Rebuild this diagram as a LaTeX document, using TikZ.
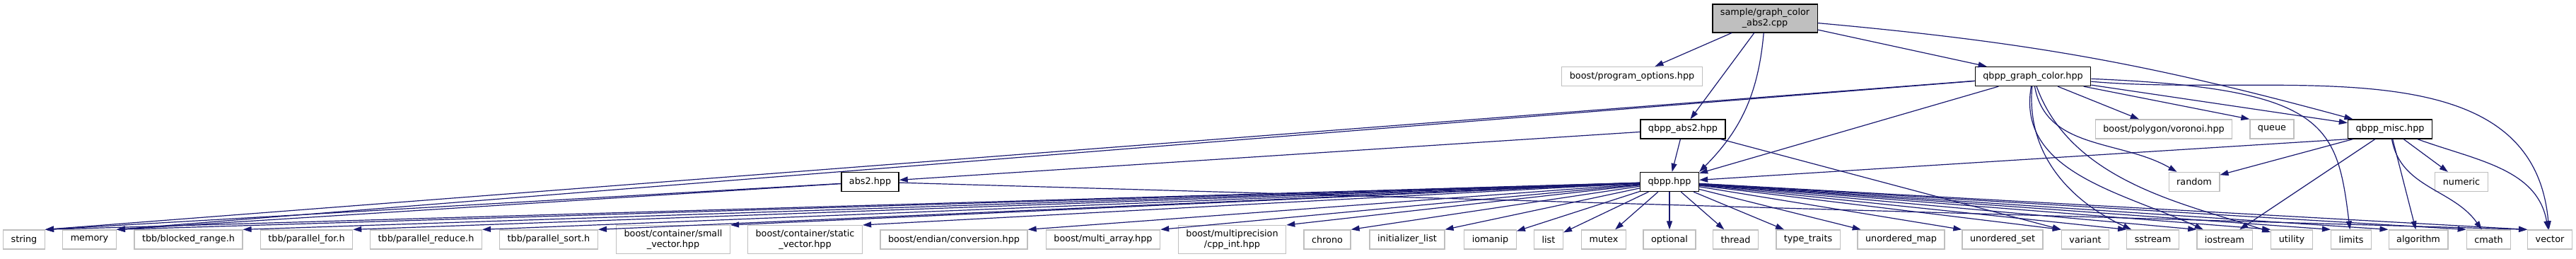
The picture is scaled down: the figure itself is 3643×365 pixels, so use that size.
\documentclass[tikz,border=0pt]{standalone}
\usepackage{fontspec}
\setmainfont{DejaVu Sans}
\usepackage{tikz}
\usetikzlibrary{arrows.meta}
\definecolor{edgeblue}{HTML}{191970}
\definecolor{leafgray}{HTML}{BFBFBF}
\tikzstyle{leaf} = [rectangle, draw=leafgray, fill=white, line width=1.3pt,
    align=center, inner xsep=11pt, inner ysep=6pt, minimum height=27pt]
\tikzstyle{header} = [leaf, draw=black]
\tikzstyle{rootfile} = [header, fill=leafgray]
\tikzstyle{line} = [draw, line width=1.2pt, color=edgeblue, -{Triangle[length=12pt,width=8pt]}]

\begin{document}
\begin{tikzpicture}[x=1pt, y=-1pt]
  \fontsize{12.8}{15}\selectfont
  \useasboundingbox (0,0) rectangle (3643,365);
    % Place nodes
    \node [rootfile] (rootFile) at (2496,26) {sample/graph\_color\\\_abs2.cpp};
    \node [leaf] (programOptions) at (2308,108) {boost/program\_options.hpp};
    \node [header] (graphColor) at (2875,108) {qbpp\_graph\_color.hpp};
    \node [header] (qbppAbs2) at (2380,182.5) {qbpp\_abs2.hpp};
    \node [leaf] (voronoi) at (3060,182.5) {boost/polygon/voronoi.hpp};
    \node [leaf] (queue) at (3213,182.5) {queue};
    \node [header] (qbppMisc) at (3380,182.5) {qbpp\_misc.hpp};
    \node [header] (abs2) at (1230.5,257) {abs2.hpp};
    \node [leaf] (random) at (3103,257) {random};
    \node [leaf] (numeric) at (3481,257) {numeric};

    % bottom row
    \node [leaf] (string) at (34,338.5) {string};
    \node [leaf, right of=string, node distance=92.5pt] (memory) {memory};
    \node [leaf, right of=memory, node distance=140pt] (blockedRange) {tbb/blocked\_range.h};
    \node [leaf, right of=blockedRange, node distance=167pt] (parallelFor) {tbb/parallel\_for.h};
    \node [leaf, right of=parallelFor, node distance=169pt] (parallelReduce) {tbb/parallel\_reduce.h};
    \node [leaf, right of=parallelReduce, node distance=173.5pt] (parallelSort) {tbb/parallel\_sort.h};
    \node [leaf, right of=parallelSort, node distance=176pt] (smallVector) {boost/container/small\\\_vector.hpp};
    \node [leaf, right of=smallVector, node distance=186.5pt] (staticVector) {boost/container/static\\\_vector.hpp};
    \node [leaf, right of=staticVector, node distance=210.5pt] (endianConv) {boost/endian/conversion.hpp};
    \node [leaf, right of=endianConv, node distance=211pt] (multiArray) {boost/multi\_array.hpp};
    \node [leaf, right of=multiArray, node distance=182.5pt] (cppInt) {boost/multiprecision\\/cpp\_int.hpp};
    \node [leaf, right of=cppInt, node distance=134.5pt] (chrono) {chrono};
    \node [leaf, right of=chrono, node distance=113pt] (initList) {initializer\_list};
    \node [leaf, right of=initList, node distance=117.5pt] (iomanip) {iomanip};
    \node [leaf, right of=iomanip, node distance=82.5pt] (list) {list};
    \node [leaf, right of=list, node distance=78pt] (mutex) {mutex};
    \node [leaf, right of=mutex, node distance=93pt] (optional) {optional};
    \node [leaf, right of=optional, node distance=93.5pt] (thread) {thread};
    \node [leaf, right of=thread, node distance=102.5pt] (typeTraits) {type\_traits};
    \node [leaf, right of=typeTraits, node distance=131.5pt] (unorderedMap) {unordered\_map};
    \node [leaf, right of=unorderedMap, node distance=143.5pt] (unorderedSet) {unordered\_set};
    \node [leaf, right of=unorderedSet, node distance=117pt] (variant) {variant};
    \node [leaf, right of=variant, node distance=95.5pt] (sstream) {sstream};
    \node [leaf, right of=sstream, node distance=101.5pt] (iostream) {iostream};
    \node [leaf, right of=iostream, node distance=95pt] (utility) {utility};
    \node [leaf, right of=utility, node distance=84pt] (limits) {limits};
    \node [leaf, right of=limits, node distance=95pt] (algorithm) {algorithm};
    \node [leaf, right of=algorithm, node distance=99.5pt] (cmath) {cmath};
    \node [leaf, right of=cmath, node distance=86.5pt] (vector) {vector};
    \node [header, above of=optional, node distance=81.5pt] (qbpp) {qbpp.hpp};

    % Draw edges
    \path [line] (rootFile) -- (programOptions);
    \path [line] (rootFile) -- (qbppAbs2);
    \path [line] (rootFile) to[out=-95,in=45] (qbpp.north east);
    \path [line] (rootFile) -- (graphColor);
    \path [line] (rootFile) to[bend left=5] (qbppMisc);

    \path [line] (graphColor) -- (string.north east);
    \path [line] (graphColor) -- (memory.north east);
    \path [line] (graphColor) -- (qbpp);
    \path [line] (graphColor) -- (voronoi);
    \path [line] (graphColor) -- (queue.north west);
    \path [line] (graphColor) -- (qbppMisc);
    \path [line] (graphColor) to[out=-80,in=150] (random);
    \path [line] (graphColor) to[out=-95,in=155] (sstream);
    \path [line] (graphColor) to[out=-100,in=155] (iostream);
    \path [line] (graphColor) .. controls (2930,260) and (3100,290) .. (utility);
    \path [line] (graphColor) .. controls (3290,125) and (3305,175) .. (limits);
    \path [line] (graphColor) to[out=-5,in=95] (vector);

    \path [line] (qbppAbs2) -- (abs2);
    \path [line] (qbppAbs2) -- (qbpp);
    \path [line] (qbppAbs2) -- (variant.north west);

    \path [line] (abs2) -- (string.north east);
    \path [line] (abs2) -- (memory.north east);
    \path [line] (abs2) -- (vector.north west);

    \path [line] (qbppMisc.south west) -- (qbpp);
    \path [line] (qbppMisc) -- (random);
    \path [line] (qbppMisc) -- (numeric);
    \path [line] (qbppMisc) -- (iostream);
    \path [line] (qbppMisc) -- (algorithm);
    \path [line] (qbppMisc) to[out=-80,in=125] (cmath);
    \path [line] (qbppMisc) to[out=-20,in=100] (vector);

    % qbpp.hpp includes
    \path [line] (qbpp) -- (string.north east);
    \path [line] (qbpp) -- (memory.north east);
    \path [line] (qbpp) -- (blockedRange.north east);
    \path [line] (qbpp) -- (parallelFor.north east);
    \path [line] (qbpp) -- (parallelReduce.north east);
    \path [line] (qbpp) -- (parallelSort.north east);
    \path [line] (qbpp) -- (smallVector.north east);
    \path [line] (qbpp) -- (staticVector.north east);
    \path [line] (qbpp) -- (endianConv.north east);
    \path [line] (qbpp) -- (multiArray.north east);
    \path [line] (qbpp) -- (cppInt.north east);
    \path [line] (qbpp) -- (chrono.north east);
    \path [line] (qbpp) -- (initList.north east);
    \path [line] (qbpp) -- (iomanip);
    \path [line] (qbpp) -- (list);
    \path [line] (qbpp) -- (mutex);
    \path [line] (qbpp) -- (optional);
    \path [line] (qbpp) -- (thread);
    \path [line] (qbpp) -- (typeTraits);
    \path [line] (qbpp) -- (unorderedMap);
    \path [line] (qbpp) -- (unorderedSet.north west);
    \path [line] (qbpp) -- (variant.north west);
    \path [line] (qbpp) -- (sstream.north west);
    \path [line] (qbpp) -- (iostream.north west);
    \path [line] (qbpp) -- (utility.north west);
    \path [line] (qbpp) -- (limits.north west);
    \path [line] (qbpp) -- (algorithm.north west);
    \path [line] (qbpp) -- (cmath.north west);
    \path [line] (qbpp) -- (vector.north west);
\end{tikzpicture}
\end{document}
